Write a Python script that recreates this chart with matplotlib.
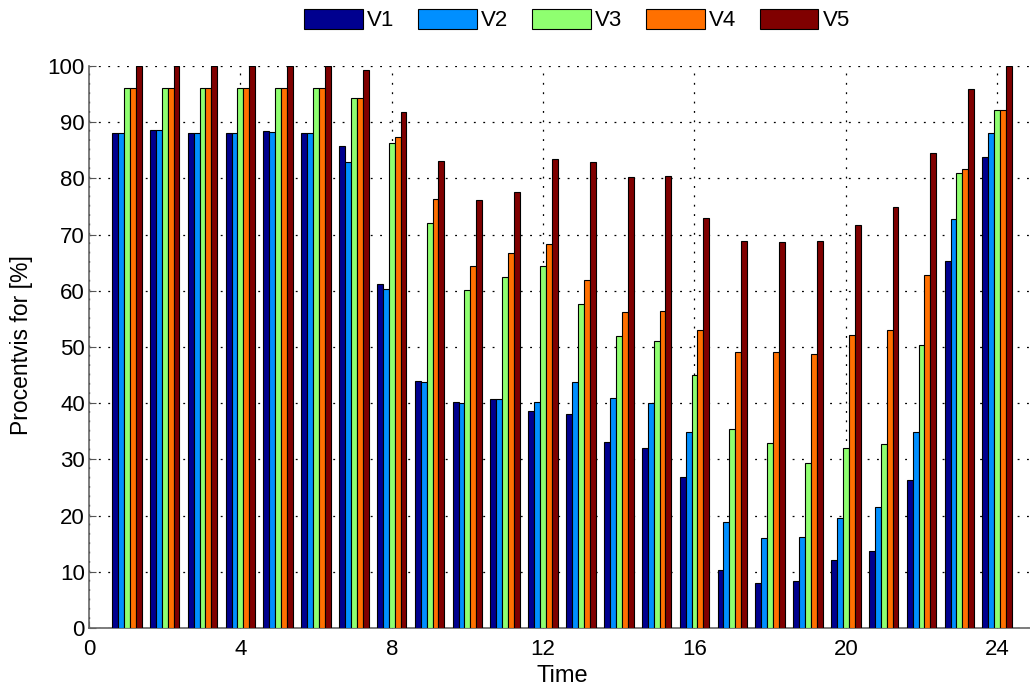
import numpy as np
import matplotlib
matplotlib.use('Agg')
import matplotlib.pyplot as plt

plt.rcParams['font.family'] = ['Liberation Sans', 'DejaVu Sans']

hours = np.arange(1, 25)
series_names = ['V1', 'V2', 'V3', 'V4', 'V5']
v1 = [88.0, 88.7, 88.0, 88.0, 88.5, 88.0, 85.8, 61.2, 44.0, 40.2, 40.8, 38.7,
      38.1, 33.1, 32.1, 26.8, 10.4, 8.1, 8.3, 12.1, 13.7, 26.4, 65.3, 83.8]
v2 = [88.0, 88.7, 88.0, 88.0, 88.3, 88.0, 83.0, 60.4, 43.8, 40.0, 40.8, 40.3,
      43.8, 41.0, 40.0, 34.8, 18.8, 16.0, 16.2, 19.6, 21.6, 34.8, 72.7, 88.0]
v3 = [96.0, 96.0, 96.0, 96.0, 96.0, 96.0, 94.3, 86.3, 72.0, 60.2, 62.5, 64.4,
      57.7, 52.0, 51.0, 45.0, 35.4, 32.9, 29.3, 32.1, 32.7, 50.3, 80.9, 92.1]
v4 = [96.0, 96.0, 96.0, 96.0, 96.0, 96.0, 94.3, 87.3, 76.3, 64.4, 66.7, 68.4,
      61.9, 56.2, 56.4, 53.0, 49.1, 49.1, 48.7, 52.1, 53.0, 62.9, 81.7, 92.1]
v5 = [100.0, 100.0, 100.0, 100.0, 100.0, 100.0, 99.2, 91.9, 83.1, 76.2, 77.6, 83.4,
      83.0, 80.3, 80.4, 73.0, 68.8, 68.6, 68.8, 71.7, 74.9, 84.6, 95.9, 100.0]
colors = [(0, 0, 0.5625), (0, 0.5625, 1), (0.5625, 1, 0.4375), (1, 0.4375, 0), (0.5, 0, 0)]

fig = plt.figure(figsize=(10.3, 6.86), dpi=100)
ax = fig.add_axes([0.0864, 0.0845, 0.9185, 0.8193])

width = 0.156
data = [v1, v2, v3, v4, v5]
for i, vals in enumerate(data):
    offs = (i - 2) * width
    ax.bar(hours + offs, vals, width, color=colors[i], edgecolor='black',
           linewidth=0.8, label=series_names[i], zorder=3)

ax.set_xlim(0, 25)
ax.set_ylim(0, 100)
ax.set_xticks(range(0, 25, 4))
ax.set_yticks(range(0, 101, 10))
ax.grid(True, linestyle=(0, (1.5, 6)), color='black', linewidth=0.9, zorder=0)
ax.tick_params(direction='in', labelsize=16, length=5, color='#555555')
ax.tick_params(axis='x', pad=8)
ax.tick_params(axis='y', pad=3)
for s in ['top', 'right']:
    ax.spines[s].set_visible(False)
for s in ['left', 'bottom']:
    ax.spines[s].set_color('#666666')
    ax.spines[s].set_linewidth(1.2)

ax.set_xlabel('Time', fontsize=17)
ax.set_ylabel('Procentvis for [%]', fontsize=16.5)
ax.xaxis.set_label_coords(0.5, -0.066)
ax.yaxis.set_label_coords(-0.059, 0.504)

fig.legend(*ax.get_legend_handles_labels(), loc='center',
           bbox_to_anchor=(577 / 1030, 1 - 20 / 686), ncol=5, frameon=False,
           fontsize=16, handlelength=2.65, handleheight=1.0, columnspacing=1.05,
           handletextpad=0.2, borderaxespad=0.0)

fig.savefig('out.png', dpi=100)
